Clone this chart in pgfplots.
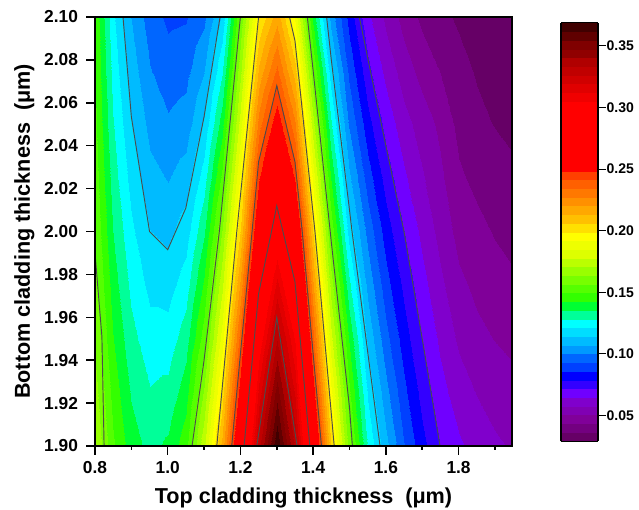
\documentclass[border=0pt]{standalone}
\usepackage{fontspec}
\setmainfont{Liberation Sans}
\usepackage{pgfplots}
\usepackage{pgfplotstable}
\pgfplotsset{compat=1.18}
\pgfplotstableread[col sep=space]{
x y z
0.80 1.900 .171
0.85 1.900 .1505
0.90 1.900 .1384
0.95 1.900 .133
1.00 1.900 .1365
1.05 1.900 .1467
1.10 1.900 .176
1.15 1.900 .215
1.20 1.900 .268
1.25 1.900 .331
1.30 1.900 .368
1.35 1.900 .332
1.40 1.900 .27
1.45 1.900 .206
1.50 1.900 .1605
1.55 1.900 .127
1.60 1.900 .109
1.65 1.900 .093
1.70 1.900 .081
1.75 1.900 .0715
1.80 1.900 .0655
1.85 1.900 .0618
1.90 1.900 .0585
1.95 1.900 .0565
0.80 1.925 .1665
0.85 1.925 .1465
0.90 1.925 .1344
0.95 1.925 .1285
1.00 1.925 .130
1.05 1.925 .139
1.10 1.925 .1645
1.15 1.925 .2015
1.20 1.925 .2525
1.25 1.925 .315
1.30 1.925 .351
1.35 1.925 .318
1.40 1.925 .2535
1.45 1.925 .193
1.50 1.925 .151
1.55 1.925 .1195
1.60 1.925 .102
1.65 1.925 .0875
1.70 1.925 .076
1.75 1.925 .067
1.80 1.925 .0607
1.85 1.925 .0569
1.90 1.925 .0542
1.95 1.925 .0525
0.80 1.950 .162
0.85 1.950 .1425
0.90 1.950 .1304
0.95 1.950 .124
1.00 1.950 .124
1.05 1.950 .132
1.10 1.950 .153
1.15 1.950 .188
1.20 1.950 .237
1.25 1.950 .2985
1.30 1.950 .333
1.35 1.950 .304
1.40 1.950 .237
1.45 1.950 .18
1.50 1.950 .1415
1.55 1.950 .112
1.60 1.950 .095
1.65 1.950 .082
1.70 1.950 .0715
1.75 1.950 .063
1.80 1.950 .056
1.85 1.950 .052
1.90 1.950 .05
1.95 1.950 .0485
0.80 1.975 .1587
0.85 1.975 .1387
0.90 1.975 .1264
0.95 1.975 .119
1.00 1.975 .118
1.05 1.975 .1247
1.10 1.975 .1435
1.15 1.975 .1757
1.20 1.975 .221
1.25 1.975 .281
1.30 1.975 .3145
1.35 1.975 .285
1.40 1.975 .221
1.45 1.975 .167
1.50 1.975 .13
1.55 1.975 .1045
1.60 1.975 .0885
1.65 1.975 .0767
1.70 1.975 .067
1.75 1.975 .059
1.80 1.975 .0518
1.85 1.975 .0486
1.90 1.975 .0462
1.95 1.975 .0445
0.80 2.000 .1555
0.85 2.000 .135
0.90 2.000 .1225
0.95 2.000 .114
1.00 2.000 .112
1.05 2.000 .1175
1.10 2.000 .134
1.15 2.000 .1635
1.20 2.000 .205
1.25 2.000 .264
1.30 2.000 .294
1.35 2.000 .2665
1.40 2.000 .205
1.45 2.000 .154
1.50 2.000 .118
1.55 2.000 .097
1.60 2.000 .082
1.65 2.000 .0715
1.70 2.000 .0625
1.75 2.000 .055
1.80 2.000 .0477
1.85 2.000 .0452
1.90 2.000 .0425
1.95 2.000 .0405
0.80 2.025 .1532
0.85 2.025 .1317
0.90 2.025 .1185
0.95 2.025 .1092
1.00 2.025 .1064
1.05 2.025 .1102
1.10 2.025 .1245
1.15 2.025 .1512
1.20 2.025 .1925
1.25 2.025 .2475
1.30 2.025 .274
1.35 2.025 .2472
1.40 2.025 .189
1.45 2.025 .1415
1.50 2.025 .1085
1.55 2.025 .089
1.60 2.025 .0755
1.65 2.025 .0657
1.70 2.025 .0582
1.75 2.025 .0518
1.80 2.025 .0443
1.85 2.025 .0413
1.90 2.025 .0391
1.95 2.025 .0375
0.80 2.050 .151
0.85 2.050 .1285
0.90 2.050 .1146
0.95 2.050 .1045
1.00 2.050 .1008
1.05 2.050 .103
1.10 2.050 .115
1.15 2.050 .139
1.20 2.050 .18
1.25 2.050 .231
1.30 2.050 .255
1.35 2.050 .228
1.40 2.050 .173
1.45 2.050 .129
1.50 2.050 .099
1.55 2.050 .081
1.60 2.050 .069
1.65 2.050 .06
1.70 2.050 .054
1.75 2.050 .0487
1.80 2.050 .041
1.85 2.050 .0375
1.90 2.050 .0358
1.95 2.050 .0345
0.80 2.075 .1495
0.85 2.075 .1255
0.90 2.075 .1107
0.95 2.075 .1002
1.00 2.075 .096
1.05 2.075 .0975
1.10 2.075 .1065
1.15 2.075 .127
1.20 2.075 .168
1.25 2.075 .215
1.30 2.075 .236
1.35 2.075 .209
1.40 2.075 .1565
1.45 2.075 .1165
1.50 2.075 .091
1.55 2.075 .0735
1.60 2.075 .0622
1.65 2.075 .0537
1.70 2.075 .0477
1.75 2.075 .043
1.80 2.075 .038
1.85 2.075 .0355
1.90 2.075 .0341
1.95 2.075 .033
0.80 2.100 .148
0.85 2.100 .1225
0.90 2.100 .1068
0.95 2.100 .096
1.00 2.100 .0912
1.05 2.100 .092
1.10 2.100 .098
1.15 2.100 .115
1.20 2.100 .1565
1.25 2.100 .199
1.30 2.100 .217
1.35 2.100 .19
1.40 2.100 .14
1.45 2.100 .104
1.50 2.100 .083
1.55 2.100 .066
1.60 2.100 .0555
1.65 2.100 .0475
1.70 2.100 .0415
1.75 2.100 .0375
1.80 2.100 .0352
1.85 2.100 .0335
1.90 2.100 .0325
1.95 2.100 .0315
}\gridtable
\pgfplotsset{
  colormap={origin}{
    rgb255=(102,0,102) rgb255=(115,0,128) rgb255=(128,0,153) rgb255=(128,0,179)
    rgb255=(128,0,204) rgb255=(112,0,255) rgb255=(51,0,255) rgb255=(0,0,255)
    rgb255=(0,64,255) rgb255=(0,102,255) rgb255=(0,153,255) rgb255=(0,187,255)
    rgb255=(0,221,255) rgb255=(0,255,255) rgb255=(0,255,153) rgb255=(0,255,51)
    rgb255=(51,255,0) rgb255=(85,255,0) rgb255=(119,255,0) rgb255=(153,255,0)
    rgb255=(187,255,0) rgb255=(221,255,0) rgb255=(238,255,0) rgb255=(255,255,0)
    rgb255=(255,224,0) rgb255=(255,192,0) rgb255=(255,168,0) rgb255=(255,144,0)
    rgb255=(255,120,0) rgb255=(255,96,0) rgb255=(255,64,0) rgb255=(255,0,0)
    rgb255=(255,0,0) rgb255=(255,0,0) rgb255=(255,0,0) rgb255=(255,0,0)
    rgb255=(255,0,0) rgb255=(255,0,0) rgb255=(255,0,0) rgb255=(240,0,0)
    rgb255=(224,0,0) rgb255=(208,0,0) rgb255=(192,0,0) rgb255=(176,0,0)
    rgb255=(144,0,0) rgb255=(128,0,0) rgb255=(96,0,0) rgb255=(64,0,0)
  }
}
\begin{document}
\begin{tikzpicture}
\useasboundingbox (-71.25pt,-48pt) rectangle (408pt,334.5pt);
\begin{axis}[
  at={(0pt,0pt)}, anchor=origin,
  scale only axis, width=312.75pt, height=321.75pt,
  xmin=0.8, xmax=1.947, ymin=1.9, ymax=2.1,
  point meta min=0.029, point meta max=0.3686,
  xtick={0.8,1.0,1.2,1.4,1.6,1.8},
  minor xtick={0.9,1.1,1.3,1.5,1.7,1.9},
  ytick={1.90,1.92,1.94,1.96,1.98,2.00,2.02,2.04,2.06,2.08,2.10},
  tick pos=left, tick align=inside,
  major tick length=-6.5pt, minor tick length=-3pt,
  tick style={black, line width=1.1pt},
  axis line style={line width=1.5pt},
  axis on top,
  tick label style={font=\bfseries\fontsize{13}{15}\selectfont},
  /pgf/number format/assume math mode=true,
  xticklabel style={yshift=-8.1pt,/pgf/number format/fixed, /pgf/number format/fixed zerofill, /pgf/number format/precision=1},
  yticklabel style={xshift=-9.25pt,/pgf/number format/fixed, /pgf/number format/fixed zerofill, /pgf/number format/precision=2},
  every axis x label/.style={at={(axis description cs:0.5,0)},anchor=base,yshift=-43.5pt},
  every axis y label/.style={at={(axis description cs:0,0.5)},xshift=-48.75pt,anchor=base,rotate=90},
  xlabel={\bfseries\fontsize{16.2}{18}\selectfont Top cladding thickness\ \ (μm)},
  ylabel={\bfseries\fontsize{16.2}{18}\selectfont Bottom cladding thickness\ \ (μm)},
  colorbar,
  colorbar style={
    at={(1.1175,0.0105)}, anchor=south west,
    scale only axis, width=27.75pt, height=314pt,
    ytick={0.05,0.10,0.15,0.20,0.25,0.30,0.35},
    ytick pos=right, tick align=inside, major tick length=-6pt,
    axis line style={line width=0.8pt},
    tick style={black, line width=0.8pt},
    yticklabel pos=right,
    yticklabel style={xshift=3pt,font=\bfseries\fontsize{10.5}{12}\selectfont, /pgf/number format/assume math mode=true, /pgf/number format/fixed, /pgf/number format/fixed zerofill, /pgf/number format/precision=2},
  },
]
\addplot[contour filled={number=48}, mesh/cols=24, mesh/rows=9, mesh/ordering=x varies, point meta=\thisrow{z}] table[x=x,y=y] {\gridtable};
\pgfplotsset{cline/.style={black!70, line width=0.7pt}}
\addplot[cline] coordinates {(1.527,2.1)(1.55,2.081)(1.6,2.04)(1.65,2.0)(1.7,1.95)(1.749,1.9)};
\addplot[cline] coordinates {(1.437,2.1)(1.45,2.08)(1.5,2.01)(1.507,2.0)(1.55,1.944)(1.584,1.9)};
\addplot[cline] coordinates {(1.384,2.1)(1.4,2.075)(1.447,2.0)(1.45,1.995)(1.5,1.918)(1.508,1.9)};
\addplot[cline] coordinates {(1.335,2.1)(1.35,2.089)(1.405,2.0)(1.458,1.9)};
\addplot[cline] coordinates {(1.176,1.9)(1.2,1.943)(1.232,2.0)(1.25,2.0325)(1.3,2.068)(1.35,2.0325)(1.37,2.0)(1.4,1.943)(1.423,1.9)};
\addplot[cline] coordinates {(1.21,1.9)(1.25,1.971)(1.3,2.012)(1.35,1.9766)(1.391,1.9)};
\addplot[cline] coordinates {(1.245,1.9)(1.3,1.96)(1.356,1.9)};
\addplot[cline] coordinates {(1.135,1.9)(1.19,2.0)(1.25,2.1)};
\addplot[cline] coordinates {(1.067,1.9)(1.1,1.94)(1.142,2.0)(1.2,2.1)};
\addplot[cline] coordinates {(.877,2.1)(.9,2.0535)(.95,2.0)(1.0,1.9915)(1.05,2.011)(1.1,2.0535)(1.144,2.1)};
\addplot[cline] coordinates {(.8,1.99)(.819,1.951)(.825,1.9)};
\end{axis}
\end{tikzpicture}
\end{document}
